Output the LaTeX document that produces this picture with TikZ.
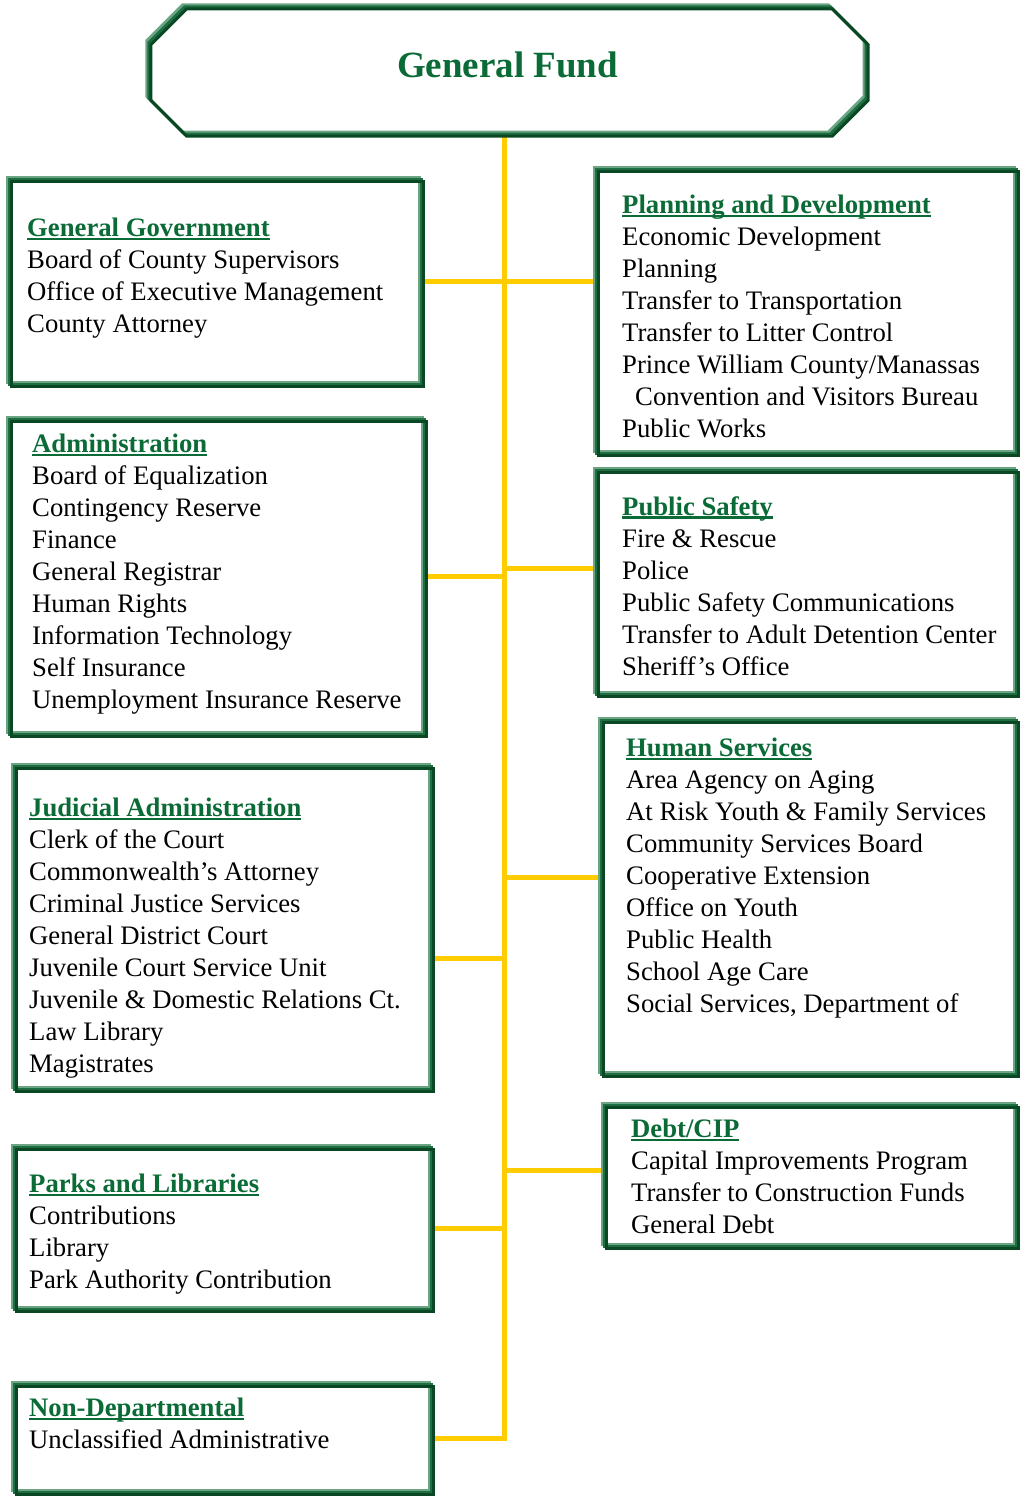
\documentclass[tikz,border=0pt]{standalone}
\usepackage{fontspec}
\setmainfont{Liberation Serif}
\usetikzlibrary{backgrounds}
\definecolor{fundgreen}{HTML}{0B6B36}
\definecolor{framelight}{HTML}{6BA583}
\definecolor{framemid}{HTML}{1F6E43}
\definecolor{framedark}{HTML}{0A4824}
\definecolor{trunkyellow}{HTML}{FFCC00}
% green underlined heading
\newcommand{\hd}[1]{{\color{fundgreen}\bfseries\setbox0\hbox{#1}\rlap{\rule[-3.5pt]{\wd0}{2.2pt}}\box0}}
\tikzset{
  frame/.style={draw=framemid, line width=3pt,
    preaction={draw=framelight, line width=3pt, transform canvas={shift={(-2pt,2pt)}}},
    postaction={draw=framedark, line width=3pt, transform canvas={shift={(2pt,-2pt)}}}},
  box/.style={frame, rectangle, anchor=north west, inner sep=0pt, outer sep=0pt},
  txt/.style={anchor=north west, align=left, inner sep=0pt, font=\fontsize{26.7}{32}\selectfont},
  link/.style={draw=trunkyellow, line width=5pt}
}
\begin{document}
\begin{tikzpicture}[x=1pt, y=-1pt]
  \useasboundingbox (0,0) rectangle (1021,1496);
  %% header
  \node[minimum width=717pt, minimum height=127pt, inner sep=0pt, text depth=12pt,
        font=\fontsize{37}{37}\selectfont\bfseries, text=fundgreen] (fund) at (507.5,70.5)
       {General Fund};
  \draw[frame] ([xshift=36pt]fund.north west) -- ([xshift=-36pt]fund.north east)
    -- ([yshift=-36pt]fund.north east) -- ([yshift=36pt]fund.south east)
    -- ([xshift=-36pt]fund.south east) -- ([xshift=36pt]fund.south west)
    -- ([yshift=36pt]fund.south west) -- ([yshift=-36pt]fund.north west) -- cycle;
  \coordinate (hub) at ([xshift=-3.5pt]fund.south);
  %% left column
  \node[box, minimum width=412pt, minimum height=205pt] (gg) at (9,179) {};
  \node[txt] (ggtext) at (27,218) {\hd{General Government}\\Board of County Supervisors\\
    Office of Executive Management\\County Attorney};
  \node[box, minimum width=415pt, minimum height=315pt] (adm) at (9,419) {};
  \node[txt] (admtext) at (32,434) {\hd{Administration}\\Board of Equalization\\
    Contingency Reserve\\Finance\\General Registrar\\Human Rights\\
    Information Technology\\Self Insurance\\Unemployment Insurance Reserve};
  \node[box, minimum width=417pt, minimum height=323pt] (jud) at (14,766) {};
  \node[txt] (judtext) at (29,798) {\hd{Judicial Administration}\\Clerk of the Court\\
    Commonwealth’s Attorney\\Criminal Justice Services\\General District Court\\
    Juvenile Court Service Unit\\Juvenile \& Domestic Relations Ct.\\Law Library\\Magistrates};
  \node[box, minimum width=417pt, minimum height=162pt] (pl) at (14,1147) {};
  \node[txt] (pltext) at (29,1174) {\hd{Parks and Libraries}\\Contributions\\Library\\
    Park Authority Contribution};
  \node[box, minimum width=417pt, minimum height=108pt] (nd) at (14,1384) {};
  \node[txt] (ndtext) at (29,1398) {\hd{Non-Departmental}\\Unclassified Administrative};
  %% right column
  \node[box, minimum width=420pt, minimum height=284pt] (pd) at (596,169) {};
  \node[txt] (pdtext) at (622,195) {\hd{Planning and Development}\\Economic Development\\
    Planning\\Transfer to Transportation\\Transfer to Litter Control\\
    Prince William County/Manassas\\\hspace*{13pt}Convention and Visitors Bureau\\Public Works};
  \node[box, minimum width=420pt, minimum height=224pt] (ps) at (596,470) {};
  \node[txt] (pstext) at (622,496) {\hd{Public Safety}\\Fire \& Rescue\\Police\\
    Public Safety Communications\\Transfer to Adult Detention Center\\Sheriff’s Office};
  \node[box, minimum width=415pt, minimum height=354pt] (hs) at (601,720) {};
  \node[txt] (hstext) at (626,738) {\hd{Human Services}\\Area Agency on Aging\\
    At Risk Youth \& Family Services\\Community Services Board\\Cooperative Extension\\
    Office on Youth\\Public Health\\School Age Care\\Social Services, Department of};
  \node[box, minimum width=412pt, minimum height=141pt] (debt) at (604,1105) {};
  \node[txt] (debttext) at (631,1119) {\hd{Debt/CIP}\\Capital Improvements Program\\
    Transfer to Construction Funds\\General Debt};
  %% connectors
  \begin{pgfonlayer}{background}
    \draw[link] (hub) -- (hub |- nd.east) -- (nd.east);
    \draw[link] (gg.east) -- (gg.east -| pd.west);
    \draw[link] (adm.east) -- (adm.east -| hub);
    \draw[link] ([yshift=14pt]ps.west) -- ([yshift=14pt]ps.west -| hub);
    \draw[link] ([yshift=-31pt]jud.east) -- ([yshift=-31pt]jud.east -| hub);
    \draw[link] ([yshift=20pt]hs.west) -- ([yshift=20pt]hs.west -| hub);
    \draw[link] (pl.east) -- (pl.east -| hub);
    \draw[link] ([yshift=5pt]debt.west) -- ([yshift=5pt]debt.west -| hub);
  \end{pgfonlayer}
\end{tikzpicture}
\end{document}
